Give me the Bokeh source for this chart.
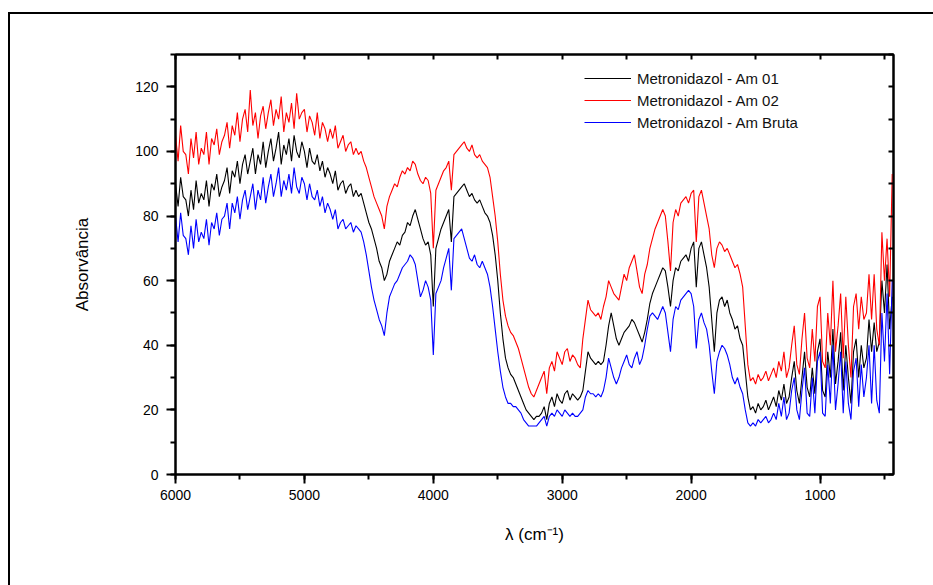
from bokeh.plotting import figure
from bokeh.models import (Range1d, LinearAxis, Legend, LegendItem, GlobalInlineStyleSheet,
                          SingleIntervalTicker, CustomJSTickFormatter, ColumnDataSource)
from bokeh.embed import file_html
from bokeh.resources import INLINE

# Wavenumber grid (cm^-1), 6000 -> 440 in steps of 20
wavenumber = list(range(6000, 439, -20))

am01 = [
    90, 83, 92, 86, 85, 80, 88, 82, 91, 84,
    87, 85, 91, 83, 90, 88, 93, 86, 89, 91,
    95, 87, 94, 92, 97, 90, 96, 99, 93, 97,
    101, 93, 99, 96, 103, 95, 100, 104, 97, 101,
    106, 96, 102, 99, 104, 97, 105, 100, 98, 103,
    100, 95, 101, 97, 96, 99, 94, 97, 92, 95,
    93, 90, 94, 88, 90, 91, 87, 89, 90, 86,
    88, 86, 87, 84, 81, 78, 76, 73, 70, 66,
    64, 60, 62, 66, 68, 70, 72, 71, 74, 75,
    78, 77, 80, 82, 79, 76, 73, 71, 72, 68,
    52, 70, 73, 76, 78, 80, 82, 72, 86, 87,
    88, 89, 90, 88, 86, 87, 85, 84, 85, 83,
    81, 80, 78, 74, 68, 60, 50, 42, 36, 33,
    31, 30, 28, 26, 24, 22, 20, 19, 18, 17,
    18, 18, 19, 21, 17, 22, 24, 21, 25, 23,
    22, 25, 26, 23, 25, 24, 23, 24, 26, 32,
    38, 36, 35, 34, 35, 34, 35, 40, 46, 50,
    46, 42, 40, 42, 44, 45, 46, 48, 47, 45,
    43, 41, 44, 48, 53, 56, 58, 60, 62, 64,
    63, 58, 52, 60, 64, 63, 66, 67, 68, 66,
    70, 72, 58, 70, 72, 68, 64, 58, 48, 38,
    50, 54, 55, 52, 54, 50, 48, 45, 46, 42,
    40, 32, 24, 20, 21, 19, 22, 20, 21, 23,
    20, 22, 24, 21, 26, 23, 28, 22, 24, 30,
    35, 26, 22, 30, 38, 27, 24, 33, 25, 38,
    42, 26, 24, 38, 30, 45, 28, 35, 44, 26,
    40, 30, 22, 38, 42, 30, 40, 33, 36, 48,
    38, 47, 38, 41, 60, 50, 65, 45, 55,
]

am02 = [
    105, 97, 108, 100, 99, 93, 104, 98, 106, 96,
    101, 99, 106, 96, 104, 102, 107, 99, 103, 105,
    109, 101, 108, 105, 112, 103, 110, 113, 106, 119,
    108, 112, 104, 111, 114, 107, 112, 116, 108, 113,
    110, 117, 106, 112, 109, 115, 107, 118, 110, 112,
    113, 106, 111, 109, 105, 112, 104, 109, 107, 103,
    107, 104, 108, 101, 103, 105, 100, 102, 103, 99,
    101, 99, 100, 97, 95, 92, 89, 86, 84, 82,
    80, 76, 83, 86, 88, 90, 89, 92, 94, 93,
    95, 94, 97, 96, 93, 91, 90, 92, 91, 87,
    70, 88, 90, 92, 94, 95, 97, 88, 99, 100,
    101, 102, 103, 101, 100, 102, 99, 98, 99, 97,
    96, 95, 92, 86, 80, 72, 62, 54, 49, 46,
    44, 43, 41, 39, 36, 33, 30, 27, 25, 24,
    26, 28, 30, 32, 25, 33, 35, 32, 38, 36,
    34, 38, 39, 35, 37, 36, 34, 33, 42, 48,
    54, 51, 50, 49, 50, 48, 52, 55, 60, 58,
    56, 55, 54, 58, 62, 60, 64, 66, 68, 63,
    58, 56, 62, 65, 70, 73, 76, 78, 80, 82,
    80, 72, 63, 78, 82, 80, 84, 85, 86, 84,
    87, 88, 72, 86, 88, 84, 80, 76, 68, 64,
    70, 72, 71, 69, 70, 68, 66, 64, 65, 62,
    58, 46, 34, 29, 30, 28, 31, 29, 30, 32,
    29, 31, 33, 30, 35, 32, 38, 30, 33, 40,
    46, 34, 31, 42, 50, 36, 33, 45, 35, 52,
    55, 35, 33, 50, 40, 60, 38, 46, 56, 36,
    55, 40, 30, 52, 56, 45, 55, 48, 50, 62,
    48, 62, 45, 40, 75, 60, 73, 55, 93,
]

am_bruta = [
    80, 72, 81, 74, 73, 68, 77, 70, 79, 72,
    75, 73, 79, 71, 78, 76, 81, 74, 79, 80,
    84, 76, 84, 81, 86, 79, 85, 88, 82, 86,
    90, 82, 88, 85, 92, 84, 89, 93, 86, 90,
    95, 86, 91, 88, 93, 87, 95, 89, 87, 92,
    90, 85, 90, 86, 85, 88, 83, 86, 81, 84,
    82, 79, 82, 76, 78, 79, 76, 77, 78, 75,
    77, 76, 75, 72, 68, 63, 58, 54, 51, 48,
    46, 43, 50, 55, 57, 59, 60, 62, 64, 65,
    66, 68, 67, 65, 60, 55, 57, 60, 58, 54,
    37, 56, 58, 60, 64, 67, 70, 57, 73, 74,
    75, 76, 73, 70, 67, 66, 68, 65, 64, 66,
    64, 62, 58, 52, 45, 38, 32, 27, 24, 22,
    22, 21, 21, 20, 19, 17, 16, 15, 15, 15,
    15, 16, 17, 18, 15, 18, 19, 18, 20, 19,
    18, 20, 19, 18, 19, 18, 18, 19, 20, 24,
    26, 25, 25, 24, 25, 24, 26, 30, 36, 33,
    30, 28, 30, 33, 35, 37, 34, 33, 36, 38,
    34, 36, 40, 45, 49, 50, 49, 48, 50, 52,
    50, 44, 38, 48, 52, 51, 54, 55, 56, 57,
    56, 52, 39, 48, 50, 47, 45, 40, 32, 25,
    35, 38, 40, 39, 37, 34, 30, 28, 30, 27,
    25, 20, 16, 15, 16, 15, 17, 16, 17, 18,
    16, 17, 19, 17, 22, 18, 24, 17, 19, 26,
    30, 20, 17, 26, 33, 19, 18, 30, 19, 35,
    38, 19, 18, 34, 22, 40, 20, 28, 38, 19,
    35, 22, 17, 32, 36, 21, 34, 24, 30, 40,
    22, 40, 23, 19, 50, 35, 56, 31, 60,
]

series_names = ["Metronidazol - Am 01", "Metronidazol - Am 02", "Metronidazol - Am Bruta"]
series_colors = ["#000000", "#ff0000", "#0000ff"]

FONT = "Liberation Sans"

# outer page frame (only its left and top edges fall inside the window), no scrollbars
page_css = GlobalInlineStyleSheet(css="""
html, body { overflow: hidden !important; }
body::after {
  content: ""; position: fixed; left: 8px; top: 12px; right: -20px; bottom: -20px;
  border: 2px solid black; pointer-events: none; z-index: 1000;
}
""")

p = figure(width=933, height=585, x_range=Range1d(6000, 430), y_range=Range1d(0, 130),
           output_backend="svg", toolbar_location=None,
           min_border_left=175, min_border_right=40, min_border_top=54, min_border_bottom=111,
           x_axis_label="λ (cm⁻¹)", y_axis_label="Absorvância")
p.stylesheets = [page_css]
p.grid.visible = False
p.outline_line_color = "black"
p.outline_line_width = 2
p.background_fill_color = "white"
p.border_fill_color = "white"

p.xaxis.ticker = SingleIntervalTicker(interval=1000, num_minor_ticks=2)
p.yaxis.ticker = SingleIntervalTicker(interval=20, num_minor_ticks=2)

for ax in (p.xaxis[0], p.yaxis[0]):
    ax.axis_line_width = 2
    ax.major_tick_line_width = 2
    ax.minor_tick_line_width = 2
    ax.major_tick_out = 9
    ax.major_tick_in = 0
    ax.minor_tick_out = 5
    ax.minor_tick_in = 0
    ax.major_label_text_font = FONT
    ax.major_label_text_font_size = "14px"
    ax.major_label_text_color = "black"
    ax.axis_label_text_font = FONT
    ax.axis_label_text_font_size = "17px"
    ax.axis_label_text_font_style = "normal"
    ax.axis_label_text_color = "black"

p.xaxis.major_label_standoff = 6
p.xaxis.axis_label_standoff = 22
p.yaxis.major_label_standoff = 8
p.yaxis.axis_label_standoff = 40

blank = CustomJSTickFormatter(code="return ''")
top_ax = LinearAxis(ticker=SingleIntervalTicker(interval=500, num_minor_ticks=0), formatter=blank,
                    axis_line_width=2, major_tick_in=5, major_tick_out=0, major_tick_line_width=2,
                    minor_tick_line_color=None)
right_ax = LinearAxis(ticker=SingleIntervalTicker(interval=10, num_minor_ticks=0), formatter=blank,
                      axis_line_width=2, major_tick_in=5, major_tick_out=0, major_tick_line_width=2,
                      minor_tick_line_color=None)
p.add_layout(top_ax, "above")
p.add_layout(right_ax, "right")

items = []
for name, ys, col in zip(series_names, [am01, am02, am_bruta], series_colors):
    src = ColumnDataSource(data=dict(x=wavenumber, y=ys))
    r = p.line("x", "y", source=src, line_color=col, line_width=1.1)
    items.append(LegendItem(label=name, renderers=[r]))

legend = Legend(items=items, location=(409, 342), border_line_color=None,
                background_fill_alpha=0, glyph_width=47, glyph_height=20,
                label_height=20, spacing=2, padding=0, margin=0, label_standoff=6,
                label_text_font=FONT, label_text_font_size="15px", label_text_color="#111111")
p.add_layout(legend)

open("out.html", "w").write(file_html(p, INLINE))
